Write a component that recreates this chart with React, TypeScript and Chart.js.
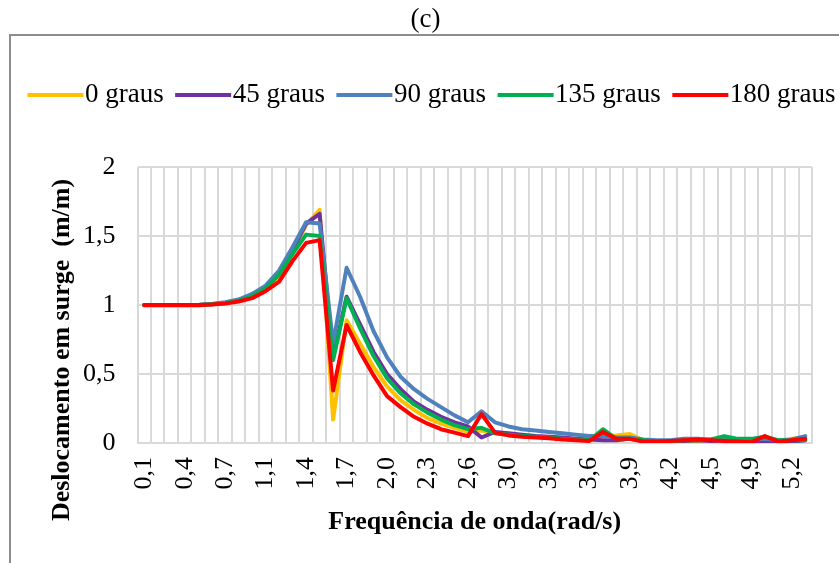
import React, { useEffect, useRef } from "react";
import { Chart, registerables } from "chart.js";

Chart.register(...registerables);

const frequencies = [
  "0,1", "0,2", "0,3", "0,4", "0,5", "0,6", "0,7", "0,8", "0,9", "1,1",
  "1,2", "1,3", "1,4", "1,5", "1,6", "1,7", "1,8", "1,9", "2,0", "2,1",
  "2,2", "2,3", "2,4", "2,5", "2,6", "2,8", "2,9", "3,0", "3,1", "3,2",
  "3,3", "3,4", "3,5", "3,6", "3,7", "3,8", "3,9", "4,0", "4,1", "4,2",
  "4,3", "4,4", "4,5", "4,7", "4,8", "4,9", "5,0", "5,1", "5,2", "5,3",
];

const graus0 = [
  0.995, 0.995, 0.995, 0.995, 0.995, 1.005, 1.015, 1.03, 1.06, 1.11,
  1.21, 1.38, 1.58, 1.69, 0.17, 0.89, 0.72, 0.55, 0.41, 0.31,
  0.24, 0.18, 0.14, 0.11, 0.08, 0.09, 0.07, 0.06, 0.05, 0.045,
  0.04, 0.03, 0.025, 0.02, 0.05, 0.055, 0.065, 0.02, 0.005, 0.005,
  0.01, 0.015, 0.02, 0.03, 0.01, 0.005, 0.04, 0.005, 0.03, 0.04,
];
const graus45 = [
  1.0, 1.0, 1.0, 1.0, 1.0, 1.005, 1.015, 1.035, 1.07, 1.12,
  1.23, 1.4, 1.59, 1.66, 0.62, 1.06, 0.86, 0.66, 0.5, 0.39,
  0.3, 0.24, 0.19, 0.15, 0.12, 0.04, 0.08, 0.07, 0.06, 0.05,
  0.045, 0.04, 0.03, 0.025, 0.02, 0.02, 0.03, 0.015, 0.01, 0.01,
  0.015, 0.02, 0.015, 0.02, 0.01, 0.01, 0.01, 0.005, 0.01, 0.02,
];
const graus90 = [
  1.0, 1.0, 1.0, 1.0, 1.0, 1.008, 1.02, 1.04, 1.08, 1.14,
  1.25, 1.42, 1.6, 1.59, 0.72, 1.27, 1.06, 0.81, 0.62, 0.48,
  0.39, 0.32, 0.26, 0.2, 0.15, 0.23, 0.15, 0.12, 0.1, 0.09,
  0.08, 0.07, 0.06, 0.05, 0.05, 0.04, 0.04, 0.025, 0.02, 0.02,
  0.03, 0.03, 0.025, 0.03, 0.025, 0.02, 0.03, 0.02, 0.025, 0.05,
];
const graus135 = [
  1.0, 1.0, 1.0, 1.0, 1.0, 1.005, 1.015, 1.03, 1.065, 1.12,
  1.22, 1.37, 1.51, 1.5, 0.6, 1.05, 0.83, 0.63, 0.47, 0.36,
  0.28, 0.22, 0.17, 0.13, 0.1, 0.11, 0.07, 0.06, 0.05, 0.045,
  0.04, 0.03, 0.025, 0.02, 0.1, 0.03, 0.03, 0.02, 0.01, 0.01,
  0.02, 0.02, 0.025, 0.05, 0.03, 0.03, 0.045, 0.02, 0.02, 0.02,
];
const graus180 = [
  1.0, 1.0, 1.0, 1.0, 1.0, 1.003, 1.01, 1.025, 1.05, 1.1,
  1.17, 1.32, 1.45, 1.47, 0.38, 0.855, 0.66, 0.49, 0.34, 0.26,
  0.19, 0.14, 0.1, 0.075, 0.05, 0.21, 0.075, 0.055, 0.045, 0.04,
  0.035, 0.025, 0.02, 0.015, 0.08, 0.03, 0.03, 0.01, 0.01, 0.015,
  0.02, 0.025, 0.02, 0.015, 0.01, 0.005, 0.05, 0.01, 0.02, 0.03,
];

const seriesNames = ["0 graus", "45 graus", "90 graus", "135 graus", "180 graus"];
const seriesColors = ["#FFC000", "#7030A0", "#4F81BD", "#00B050", "#FF0000"];
const seriesValues = [graus0, graus45, graus90, graus135, graus180];

const yTicks = [0, 0.5, 1, 1.5, 2];
const yTitle = "Deslocamento em surge  (m/m)";
const xTitle = "Frequência de onda(rad/s)";
const chartTitle = "(c)";

const SERIF = "'Liberation Serif', 'Times New Roman', serif";
const FS = 26;
const LEGEND_BOX = 44;

const extrasPlugin = {
  id: "extrasPlugin",
  afterLayout(chart: any) {
    if (chart.legend) {
      chart.legend.left += 12;
      chart.legend.right += 12;
    }
    if (chart.titleBlock) {
      chart.titleBlock.left += 6;
      chart.titleBlock.right += 6;
    }
  },
  afterDraw(chart: any) {
    const ctx = chart.ctx;
    // lengthen legend line samples so they run up to the label text
    const legend = chart.legend;
    if (legend && legend.legendHitBoxes) {
      legend.legendHitBoxes.forEach((hb: any, i: number) => {
        ctx.save();
        ctx.fillStyle = seriesColors[i];
        ctx.fillRect(hb.left + LEGEND_BOX - 1, hb.top + 11.5, 13, 4);
        ctx.restore();
      });
    }
    ctx.save();
    ctx.translate(62, 350);
    ctx.rotate(-Math.PI / 2);
    ctx.font = `bold ${FS}px ${SERIF}`;
    ctx.fillStyle = "#000";
    ctx.textAlign = "center";
    ctx.textBaseline = "middle";
    ctx.fillText(yTitle, 0, 0);
    ctx.restore();
  },
};

export default function App() {
  const canvasRef = useRef<HTMLCanvasElement | null>(null);

  useEffect(() => {
    if (!canvasRef.current) return;
    const chart = new Chart(canvasRef.current, {
      type: "line",
      data: {
        labels: frequencies,
        datasets: seriesValues.map((vals, i) => ({
          label: seriesNames[i],
          data: vals,
          borderColor: seriesColors[i],
          backgroundColor: seriesColors[i],
          borderWidth: 4,
          pointRadius: 0,
          tension: 0,
          borderJoinStyle: "round" as const,
          borderCapStyle: "round" as const,
          order: 5 - i,
          xAxisID: "x",
          yAxisID: "y",
        })),
      },
      options: {
        responsive: false,
        animation: false,
        events: [],
        layout: { padding: { left: 0, right: 0, top: 0, bottom: 0 } },
        plugins: {
          tooltip: { enabled: false },
          title: {
            display: true,
            text: chartTitle,
            color: "#000",
            font: { family: SERIF, size: 27, weight: "normal" },
            padding: { top: 3.8, bottom: 33.8 },
          },
          legend: {
            display: true,
            position: "top",
            labels: {
              boxWidth: LEGEND_BOX,
              boxHeight: 4,
              padding: 11.5,
              color: "#000",
              font: { family: SERIF, size: 27 },
              sort: (a: any, b: any) => a.datasetIndex - b.datasetIndex,
              generateLabels: (c: any) =>
                c.data.datasets.map((d: any, i: number) => ({
                  text: d.label,
                  fillStyle: d.borderColor,
                  strokeStyle: d.borderColor,
                  lineWidth: 0,
                  hidden: false,
                  datasetIndex: i,
                  fontColor: "#000",
                })),
            },
          },
        },
        scales: {
          x: {
            type: "category",
            position: "bottom",
            offset: true,
            grid: { display: true, offset: true, color: "#d9d9d9", lineWidth: 2, drawTicks: false },
            border: { display: true, color: "#d9d9d9", width: 2 },
            ticks: {
              autoSkip: false,
              minRotation: 90,
              maxRotation: 90,
              padding: 14,
              color: "#000",
              font: { family: SERIF, size: FS },
              callback: (_v: any, idx: number) => (idx % 3 === 0 ? frequencies[idx] : ""),
            },
            title: {
              display: true,
              text: xTitle,
              color: "#000",
              font: { family: SERIF, size: FS, weight: "bold" },
              padding: { top: 0, bottom: 25 },
            },
            afterFit: (s: any) => {
              s.height = 120;
              s.paddingLeft = 0;
              s.paddingRight = 0;
            },
          },
          xTop: {
            type: "category",
            position: "top",
            display: true,
            grid: { display: false, drawTicks: false },
            border: { display: false },
            ticks: { display: false },
            afterFit: (s: any) => {
              s.height = 48.5;
            },
          },
          y: {
            type: "linear",
            position: "left",
            min: 0,
            max: 2,
            afterBuildTicks: (s: any) => {
              s.ticks = yTicks.map((v) => ({ value: v }));
            },
            grid: { color: "#d9d9d9", lineWidth: 2, drawTicks: false },
            border: { display: false },
            ticks: {
              padding: 22,
              color: "#000",
              font: { family: SERIF, size: FS },
              callback: (v: any) => String(v).replace(".", ","),
            },
            afterFit: (s: any) => {
              s.width = 137.5;
              s.paddingTop = 0;
              s.paddingBottom = 0;
            },
          },
          yRight: {
            type: "linear",
            position: "right",
            display: true,
            grid: { display: false, drawTicks: false },
            border: { display: false },
            ticks: { display: false },
            afterFit: (s: any) => {
              s.width = 27;
            },
          },
        },
      },
      plugins: [extrasPlugin],
    });
    return () => chart.destroy();
  }, []);

  return (
    <div
      style={{
        position: "fixed",
        left: 0,
        top: 0,
        width: 839,
        height: 563,
        background: "#fff",
        overflow: "hidden",
      }}
    >
      <div
        style={{
          position: "absolute",
          left: 9,
          top: 34,
          width: 860,
          height: 560,
          border: "2px solid #8c8c8c",
          boxSizing: "border-box",
        }}
      />
      <canvas
        ref={canvasRef}
        width={839}
        height={563}
        style={{ position: "absolute", left: 0, top: 0, width: 839, height: 563 }}
      />
    </div>
  );
}
